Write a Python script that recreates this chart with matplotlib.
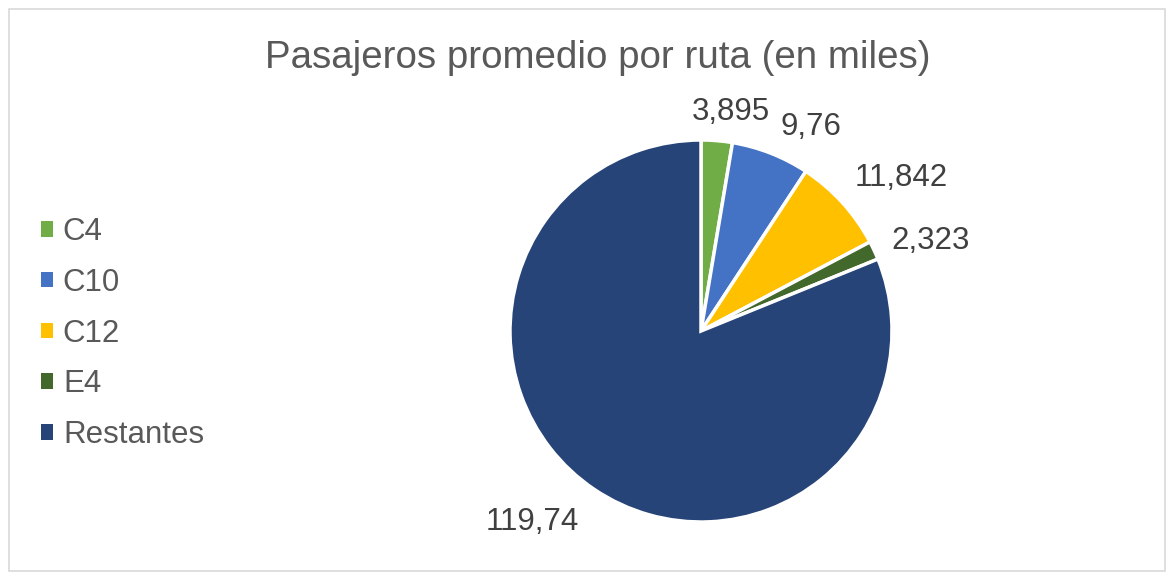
import matplotlib
matplotlib.use('Agg')
import numpy as np
import matplotlib.pyplot as plt
from matplotlib.patches import Rectangle, Patch

plt.rcParams['font.family'] = ['Liberation Sans', 'DejaVu Sans']

# data
rutas = ['C4', 'C10', 'C12', 'E4', 'Restantes']
pasajeros = [3.895, 9.76, 11.842, 2.323, 119.74]
etiquetas = ['3,895', '9,76', '11,842', '2,323', '119,74']
colores = ['#70AD47', '#4472C4', '#FFC000', '#43682B', '#264478']

txt_color = '#595959'

fig = plt.figure(figsize=(11.74, 5.8), dpi=100)

# chart border
fig.patches.append(Rectangle((9/1174, 9/580), 1156/1174, 562/580,
                             transform=fig.transFigure, fill=False,
                             edgecolor='#d9d9d9', linewidth=1.2))

ax = fig.add_axes([510/1174, 58/580, 382/1174, 382/580])
wedges, _ = ax.pie(pasajeros, colors=colores, startangle=90, counterclock=False,
                   wedgeprops=dict(edgecolor='white', linewidth=2.5))
ax.set_xlim(-1, 1)
ax.set_ylim(-1, 1)
ax.set_aspect('equal')

# value labels outside the slices
dists = [1.155, 1.215, 1.32, 1.29, 1.335]
shifts = [-3, -7, -5, -3.5, -7.6]
for w, lab, d, s in zip(wedges, etiquetas, dists, shifts):
    ang = np.deg2rad((w.theta1 + w.theta2) / 2 + s)
    ax.text(d * np.cos(ang), d * np.sin(ang), lab, ha='center', va='center',
            fontsize=22.5, color='#404040', clip_on=False)

fig.text(598/1174, 1 - 58/580, 'Pasajeros promedio por ruta (en miles)',
         ha='center', va='center', fontsize=27.7, color=txt_color)

handles = [Patch(facecolor=c, edgecolor='none') for c in colores]
leg = fig.legend(handles, rutas, loc='upper left', bbox_to_anchor=(41/1174, 1 - 217/580),
                 frameon=False, fontsize=22.5, handlelength=0.38, handleheight=0.38,
                 handletextpad=0.32, labelspacing=0.664, borderpad=0, borderaxespad=0)
for t in leg.get_texts():
    t.set_color(txt_color)

fig.savefig('out.png', dpi=100)
